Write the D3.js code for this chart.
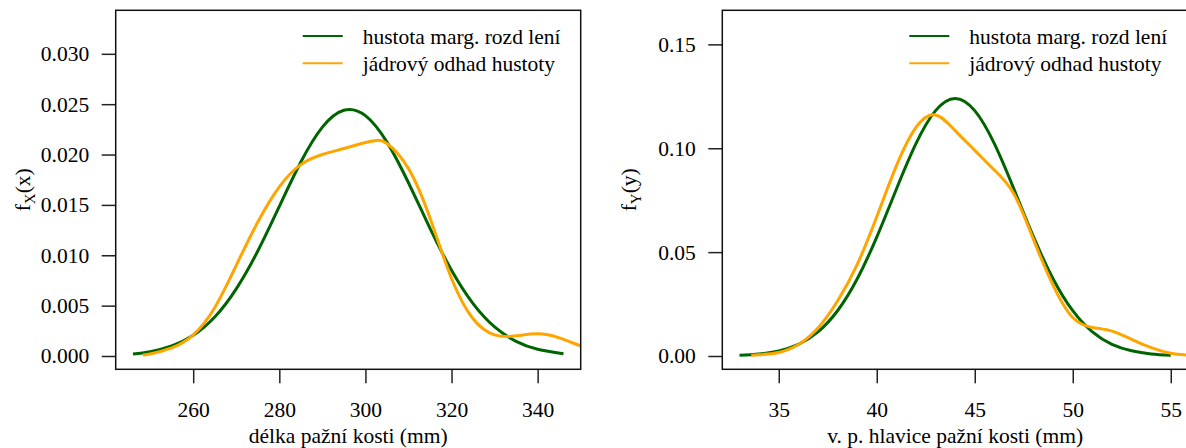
<!DOCTYPE html>
<html>
<head>
<meta charset="utf-8">
<script src="https://cdn.jsdelivr.net/npm/d3@7"></script>
<style>
  body { margin: 0; background: #fff; }
  svg { display: block; }
  text { font-family: "Liberation Serif", "Times New Roman", serif; fill: #000; }
</style>
</head>
<body>
<div id="chart"></div>
<script>
// Marginal densities: fitted normal vs kernel estimate, two panels

// left panel: length of humerus
const leftTicksX = [260, 280, 300, 320, 340];
const leftTicksY = [0, 0.005, 0.010, 0.015, 0.020, 0.025, 0.030];
const leftNormal = [
  [246, 0.00021], [250, 0.00043], [255, 0.00099], [260, 0.00205], [265, 0.00387],
  [270, 0.00667], [275, 0.01042], [280, 0.01485], [285, 0.01926], [290, 0.02272],
  [295, 0.02440], [300, 0.02386], [305, 0.02123], [310, 0.01720],
  [315, 0.01268], [320, 0.00851], [325, 0.00520], [330, 0.00289], [335, 0.00146],
  [340, 0.00067], [346, 0.00023]
];
const leftKernel = [
  [248.3, 0.0001], [250, 0.0002], [255, 0.0008], [260, 0.0021], [265, 0.0048],
  [270, 0.0090], [275, 0.0133], [280, 0.0168], [285, 0.0190], [290, 0.0200],
  [295, 0.0206], [300, 0.0212], [302.5, 0.0214], [305, 0.0211], [310, 0.0186],
  [315, 0.0137], [320, 0.0077], [325, 0.0037], [330, 0.0021], [335, 0.0020],
  [340, 0.0022], [345, 0.0018], [350, 0.0010], [354, 0.0005]
];

// right panel: vertical diameter of humeral head
const rightTicksX = [35, 40, 45, 50, 55];
const rightTicksY = [0, 0.05, 0.10, 0.15];
const rightNormal = [
  [33, 0.00036], [34, 0.00099], [35, 0.00248], [36, 0.00563], [37, 0.01163],
  [38, 0.02179], [39, 0.03705], [40, 0.05725], [41, 0.08028], [42, 0.1022],
  [43, 0.1181], [44, 0.1240], [45, 0.1181], [46, 0.1022], [47, 0.0803],
  [48, 0.0573], [49, 0.0371], [50, 0.0218], [51, 0.0116], [52, 0.0056],
  [53, 0.0025], [54, 0.0010], [55, 0.00036]
];
const rightKernel = [
  [33.6, 0.0003], [34, 0.0006], [35, 0.0017], [36, 0.0055], [37, 0.0135],
  [38, 0.0265], [39, 0.0440], [40, 0.0670], [41, 0.0915], [42, 0.1100],
  [43, 0.1160], [44, 0.1085], [45, 0.0990], [46, 0.0895],
  [47, 0.0780], [48, 0.0560], [49, 0.0340], [50, 0.0185], [51, 0.0137],
  [52, 0.0120], [53, 0.0080], [54, 0.0040], [55, 0.0013], [56, 0.0004]
];

const legendLabels = ["hustota marg. rozd lení", "jádrový odhad hustoty"];
const colors = ["#006400", "#FFA500"];

const W = 1186, H = 448;
const plotTop = 10.3, plotBottom = 369.3;
const fontSize = 21.5;
const serif = '"Liberation Serif", "Times New Roman", serif';

const svg = d3.select("#chart").append("svg")
  .attr("width", W).attr("height", H);

function panel(cfg) {
  const x = d3.scaleLinear().domain(cfg.xDomain).range([cfg.left, cfg.right]);
  const y = d3.scaleLinear().domain(cfg.yDomain).range([plotBottom, plotTop]);

  const clipId = "clip" + cfg.id;
  svg.append("clipPath").attr("id", clipId)
    .append("rect")
    .attr("x", cfg.left).attr("y", plotTop)
    .attr("width", cfg.right - cfg.left).attr("height", plotBottom - plotTop);

  const line = d3.line()
    .x(d => x(d[0]))
    .y(d => y(d[1]))
    .curve(d3.curveNatural);

  const g = svg.append("g").attr("clip-path", `url(#${clipId})`);
  g.append("path").datum(cfg.normal)
    .attr("fill", "none").attr("stroke", colors[0]).attr("stroke-width", 3)
    .attr("d", line);
  g.append("path").datum(cfg.kernel)
    .attr("fill", "none").attr("stroke", colors[1]).attr("stroke-width", 3)
    .attr("d", line);

  // axes
  const xAxis = svg.append("g")
    .attr("transform", `translate(0,${plotBottom})`)
    .call(d3.axisBottom(x).tickValues(cfg.ticksX).tickSize(14).tickPadding(18)
      .tickFormat(d3.format("d")));
  const yAxis = svg.append("g")
    .attr("transform", `translate(${cfg.left},0)`)
    .call(d3.axisLeft(y).tickValues(cfg.ticksY).tickSize(14).tickPadding(12.5)
      .tickFormat(d3.format(cfg.yFormat)));

  [xAxis, yAxis].forEach(a => {
    a.attr("font-family", serif).attr("font-size", fontSize);
    a.select(".domain").remove();
    a.selectAll(".tick line").attr("stroke", "#222").attr("stroke-width", 1.5);
    a.selectAll(".tick text")
      .style("font-family", serif)
      .style("font-size", fontSize + "px")
      .attr("fill", "#000");
  });

  // box
  svg.append("rect")
    .attr("x", cfg.left).attr("y", plotTop)
    .attr("width", cfg.right - cfg.left).attr("height", plotBottom - plotTop)
    .attr("fill", "none").attr("stroke", "#111").attr("stroke-width", 1.5);

  // x label
  svg.append("text")
    .attr("x", (cfg.left + cfg.right) / 2).attr("y", 443)
    .attr("text-anchor", "middle")
    .style("font-size", fontSize + "px")
    .text(cfg.xLabel);

  // y label f_X(x)
  const yl = svg.append("text")
    .attr("transform", `translate(${cfg.left - 86},${(plotTop + plotBottom) / 2}) rotate(-90)`)
    .attr("text-anchor", "middle")
    .style("font-size", fontSize + "px");
  yl.append("tspan").text("f");
  yl.append("tspan").attr("dy", 5).style("font-size", "15px").text(cfg.sub);
  yl.append("tspan").attr("dy", -5).text(cfg.arg);

  // legend
  legendLabels.forEach((lab, i) => {
    const ly = 36 + i * 27.3;
    svg.append("line")
      .attr("x1", cfg.left + 187).attr("x2", cfg.left + 227)
      .attr("y1", ly).attr("y2", ly)
      .attr("stroke", colors[i]).attr("stroke-width", 2);
    svg.append("text")
      .attr("x", cfg.left + 247).attr("y", ly + 8)
      .style("font-size", fontSize + "px")
      .text(lab);
  });
}

panel({
  id: "L", left: 115.7, right: 580.7,
  xDomain: [242, 350], yDomain: [-0.00132, 0.03432],
  ticksX: leftTicksX, ticksY: leftTicksY, yFormat: ".3f",
  normal: leftNormal, kernel: leftKernel,
  xLabel: "délka pažní kosti (mm)", sub: "X", arg: "(x)"
});

panel({
  id: "R", left: 722.3, right: 1188,
  xDomain: [32.12, 55.88], yDomain: [-0.0064, 0.1664],
  ticksX: rightTicksX, ticksY: rightTicksY, yFormat: ".2f",
  normal: rightNormal, kernel: rightKernel,
  xLabel: "v. p. hlavice pažní kosti (mm)", sub: "Y", arg: "(y)"
});
</script>
</body>
</html>
